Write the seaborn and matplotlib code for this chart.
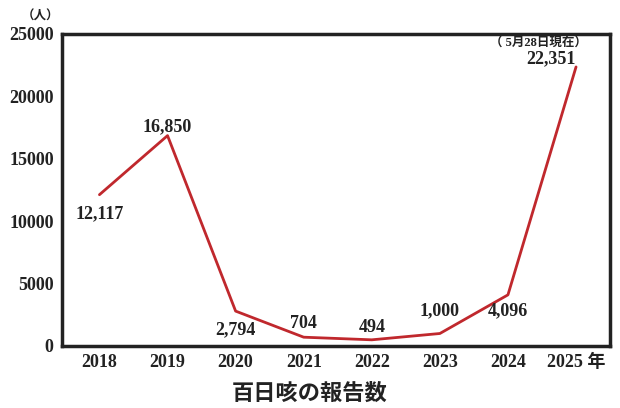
import matplotlib
matplotlib.use("Agg")
import matplotlib.pyplot as plt
import seaborn as sns
import pandas as pd

# data
years = [2018, 2019, 2020, 2021, 2022, 2023, 2024, 2025]
cases = [12117, 16850, 2794, 704, 494, 1000, 4096, 22351]
labels = ["12,117", "16,850", "2,794", "704", "494", "1,000", "4,096", "22,351"]
xticklabels = ["2018", "2019", "2020", "2021", "2022", "2023", "2024", "2025 年"]
yticks = [0, 5000, 10000, 15000, 20000, 25000]

sns.set_theme(style="white")
plt.rcParams['font.family'] = ['Liberation Serif', 'Noto Sans CJK JP']
plt.rcParams['text.color'] = '#222222'
plt.rcParams['xtick.color'] = '#222222'
plt.rcParams['ytick.color'] = '#222222'

df = pd.DataFrame({"year": years, "cases": cases})

fig = plt.figure(figsize=(6.2, 4.08), dpi=100)
ax = fig.add_axes([0.1, 0.152, 0.884, 0.765])
sns.lineplot(data=df, x="year", y="cases", color="#c0282d", linewidth=2, ax=ax)

ax.set_xlim(2017.45, 2025.5)
ax.set_ylim(0, 25000)
ax.set_xticks(years)
ax.set_xticklabels(xticklabels, fontsize=13, fontweight="bold")
ax.set_yticks(yticks)
ax.set_yticklabels([str(v) for v in yticks], fontsize=13, fontweight="bold")
ax.tick_params(axis="both", length=0, pad=6)
ax.set_xlabel("")
ax.set_ylabel("")
for s in ax.spines.values():
    s.set_color("#222222")
    s.set_linewidth(2.5)

# label offsets in pixels (dx, dy)
px = 0.72
offsets = [(0, -19), (0, 9), (0, -19), (0, 14), (0, 12), (0, 23), (0, -16), (-25, 8)]
for x, y, lab, (dx, dy) in zip(years, cases, labels, offsets):
    ax.annotate(lab, (x, y), xytext=(dx * px, dy * px), textcoords="offset points",
                ha="center", va="center", fontsize=13, fontweight="bold")
ax.annotate("（ 5月28日現在）", (years[-1], cases[-1]), xytext=(-38 * px, 23 * px),
            textcoords="offset points", ha="center", va="center", fontsize=9,
            fontweight="bold")

fig.text(40 / 620, 1 - 17 / 408, "（人）", ha="center", va="center", fontsize=9,
         fontweight="bold")
fig.text(0.5, 1 - 393 / 408, "百日咳の報告数", ha="center", va="center", fontsize=16,
         fontweight="bold", family=["Noto Sans CJK JP"])

fig.savefig("out.png", dpi=100)
